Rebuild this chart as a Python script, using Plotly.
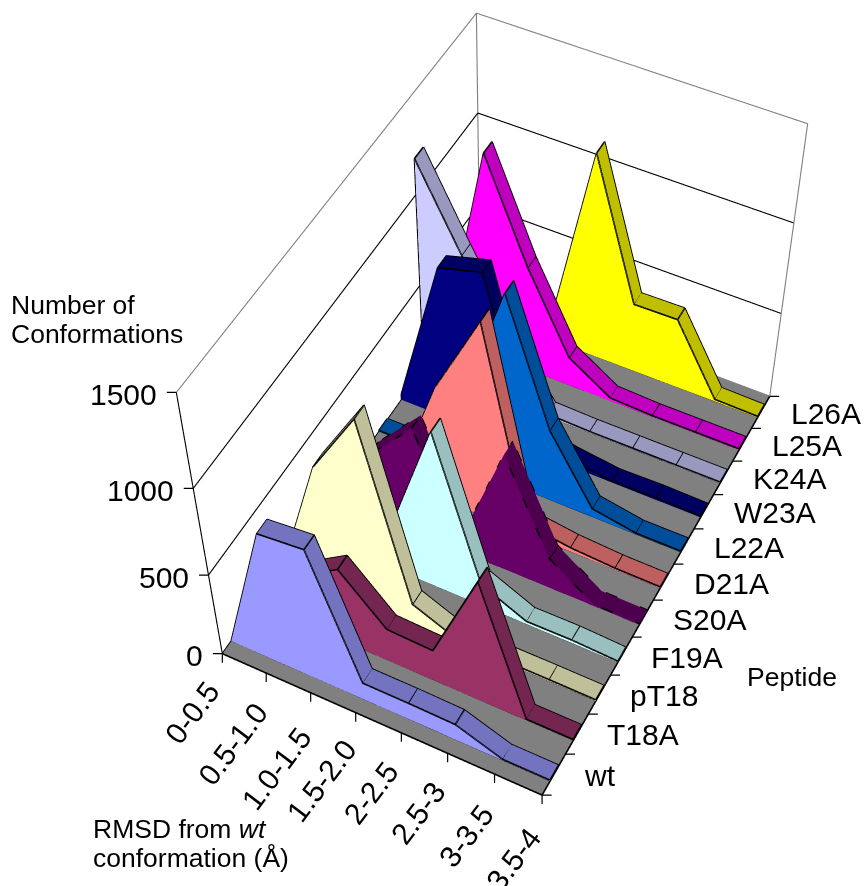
import numpy as np
import plotly.graph_objects as go

# Conformation counts per RMSD bin for each peptide
RMSD_BINS = ["0-0.5", "0.5-1.0", "1.0-1.5", "1.5-2.0", "2-2.5", "2.5-3", "3-3.5", "3.5-4"]
PEPTIDES = ["wt", "T18A", "pT18", "F19A", "S20A", "D21A", "L22A", "W23A", "K24A", "L25A", "L26A"]
wt   = [0, 784, 808, 110, 109, 104, 8, 8]
t18a = [0, 300, 460, 207, 197, 744, 8, 8]
pt18 = [0, 730, 1100, 125, 15, 10, 10, 8]
f19a = [0, 40, 260, 930, 135, 18, 20, 8]
s20a = [0, 380, 640, 80, 700, 185, 10, 8]
d21a = [0, 40, 680, 1130, 60, 25, 10, 8]
l22a = [8, 8, 400, 1093, 426, 52, 8, 8]
w23a = [34, 867, 933, 100, 40, 8, 13, 8]
k24a = [1186, 759, 350, 15, 8, 8, 8, 8]
l25a = [0, 1135, 603, 168, 18, 8, 8, 8]
l26a = [0, 8, 30, 1138, 395, 399, 13, 8]
COUNTS = [wt, t18a, pt18, f19a, s20a, d21a, l22a, w23a, k24a, l25a, l26a]

FACE_COLORS = ["#9999FF", "#993366", "#FFFFCC", "#CCFFFF", "#660066", "#FF8080",
               "#0066CC", "#000080", "#CCCCFF", "#FF00FF", "#FFFF00"]
TOP_COLORS = ["#7373BF", "#732650", "#BFBF99", "#99BFBF", "#4D004D", "#BF6060",
              "#004D99", "#000060", "#9999BF", "#BF00BF", "#BFBF00"]
Z_TICKS = [0, 500, 1000, 1500]

FLOOR_COLOR = "#808080"
EDGE = "#000000"
WALL = "#808080"
FONT = "Liberation Sans"
TICK_SIZE = 30
TITLE_SIZE = 26.5

# The scene is larger than the window so that the lens matches a long focal length;
# the page shifts it up by PAGE_TOP pixels and crops the rest.
FIG_W, FIG_H, PAGE_TOP = 1010, 1860, 487
FLAT = dict(ambient=1, diffuse=0, specular=0, roughness=1, fresnel=0)


def paper_x(px):
    return px / FIG_W


def paper_y(py):
    return 1 - (py + PAGE_TOP) / FIG_H


def quads_mesh(quads, color):
    xs, ys, zs, i, j, k = [], [], [], [], [], []
    for q in quads:
        n = len(xs)
        for p in q:
            xs.append(p[0]); ys.append(p[1]); zs.append(p[2])
        i += [n, n]; j += [n + 1, n + 2]; k += [n + 2, n + 3]
    return go.Mesh3d(x=xs, y=ys, z=zs, i=i, j=j, k=k, color=color, opacity=1,
                     flatshading=True, lighting=FLAT, hoverinfo="skip", showscale=False)


def polyline(segments, color=EDGE, width=3.2, dash="solid"):
    xs, ys, zs = [], [], []
    for seg in segments:
        for p in seg:
            xs.append(p[0]); ys.append(p[1]); zs.append(p[2])
        xs.append(None); ys.append(None); zs.append(None)
    return go.Scatter3d(x=xs, y=ys, z=zs, mode="lines", hoverinfo="skip",
                        line=dict(color=color, width=width, dash=dash), showlegend=False)


x_pos = list(range(len(RMSD_BINS)))
x_max, y_max, z_max = x_pos[-1], len(PEPTIDES), Z_TICKS[-1]
fig = go.Figure()

# Floor of the chart
fig.add_trace(quads_mesh([[(0, 0, 0), (x_max, 0, 0), (x_max, y_max, 0), (0, y_max, 0)]], FLOOR_COLOR))
fig.add_trace(polyline([[(0, y_max, 0), (0, 0, 0), (x_max, 0, 0), (x_max, y_max, 0)]]))
fig.add_trace(polyline([[(0, y_max, 0), (x_max, y_max, 0)]], color=WALL))

# Walls: gridlines and the outer frame
grid = [[(0, 0, z), (0, y_max, z), (x_max, y_max, z)] for z in Z_TICKS[1:-1]]
fig.add_trace(polyline(grid + [[(0, 0, 0), (0, 0, z_max)]], width=2.2))
fig.add_trace(polyline([[(0, 0, z_max), (0, y_max, z_max), (x_max, y_max, z_max), (x_max, y_max, 0)],
                        [(0, y_max, 0), (0, y_max, z_max)]], color=WALL, width=2.2))

# One extruded area ribbon per peptide
for s, values in enumerate(COUNTS):
    y0, y1 = s + 1 / 3, s + 0.7
    front, top, lines = [], [], []
    for a in range(len(x_pos) - 1):
        xa, xb, za, zb = x_pos[a], x_pos[a + 1], values[a], values[a + 1]
        front.append([(xa, y0, 0), (xb, y0, 0), (xb, y0, zb), (xa, y0, za)])
        top.append([(xa, y0, za), (xb, y0, zb), (xb, y1, zb), (xa, y1, za)])
    fig.add_trace(quads_mesh(front, FACE_COLORS[s]))
    fig.add_trace(quads_mesh(top, TOP_COLORS[s]))
    lines.append([(x, y0, z) for x, z in zip(x_pos, values)])
    lines.append([(x, y1, z) for x, z in zip(x_pos, values)])
    lines.append([(0, y0, 0), (x_max, y0, 0)])
    lines.append([(0, y0, 0), (0, y0, values[0])])
    lines += [[(x, y0, z), (x, y1, z)] for x, z in zip(x_pos, values)]
    fig.add_trace(polyline(lines, dash="dash" if PEPTIDES[s] == "S20A" else "solid"))

# Axis tick marks and labels, attached to the scene's own coordinates
annotations = []


def tick(x, y, z, ax, ay):
    annotations.append(dict(x=x, y=y, z=z, text="\u00a0", showarrow=True, arrowhead=0, arrowwidth=1.2,
                            arrowcolor="#000000", ax=ax, ay=ay, standoff=0,
                            font=dict(size=1)))


def label(x, y, z, text, **kw):
    annotations.append(dict(x=x, y=y, z=z, text=text, showarrow=False,
                            font=dict(family=FONT, size=TICK_SIZE, color="#000000"), **kw))


for z in Z_TICKS:
    tick(0, 0, z, -11, 0)
    label(0, 0, z, str(z), xanchor="right", yanchor="middle", xshift=-17, yshift=-2)

BIN_SHIFTS = [(-30, -59), (-34, -71), (-34, -76), (-34, -68), (-30, -60), (-30, -60), (-29, -62), (-29, -64)]
for x, name, (dx, dy) in zip(x_pos, RMSD_BINS, BIN_SHIFTS):
    tick(x, 0, 0, 0, 11)
    label(x, 0, 0, name, xanchor="center", yanchor="middle", textangle=-53, xshift=dx, yshift=dy)

for s in range(y_max + 1):
    tick(x_max, s, 0, 11, 0)
for s, name in enumerate(PEPTIDES):
    label(x_max, s + 0.5, 0, name, xanchor="left", yanchor="middle", xshift=28, yshift=-1)

fig.update_layout(
    width=FIG_W, height=FIG_H, margin=dict(l=0, r=0, t=0, b=0), autosize=False,
    paper_bgcolor="#FFFFFF", showlegend=False,
    scene=dict(
        domain=dict(x=[0, 1], y=[0, 1]),
        aspectmode="manual", aspectratio=dict(x=1, y=1.5701, z=1.1264),
        camera=dict(eye=dict(x=1.808, y=-3.5593, z=4.6826),
                    center=dict(x=0.0378, y=-0.0951, z=-0.0847),
                    up=dict(x=-0.3511, y=0.6906, z=0.6322),
                    projection=dict(type="perspective")),
        xaxis=dict(range=[0, x_max], visible=False),
        yaxis=dict(range=[0, y_max], visible=False),
        zaxis=dict(range=[0, z_max], visible=False),
        bgcolor="#FFFFFF", annotations=annotations, dragmode=False,
    ),
)

# Axis titles
for text, px, py in [("Number of", 9, 305), ("Conformations", 9, 334), ("Peptide", 745, 677),
                     ("RMSD from <i>wt</i>", 91, 829), ("conformation (Å)", 91, 858)]:
    fig.add_annotation(xref="paper", yref="paper", x=paper_x(px), y=paper_y(py), text=text, showarrow=False,
                       xanchor="left", yanchor="middle",
                       font=dict(family=FONT, size=TITLE_SIZE, color="#000000"))

SHIFT_PAGE = (
    "document.documentElement.style.overflow='hidden';"
    "document.body.style.overflow='hidden';document.body.style.margin='0';"
    "document.getElementById('{plot_id}').style.marginTop='-%dpx';" % PAGE_TOP
)
fig.write_html("out.html", post_script=SHIFT_PAGE, config=dict(displayModeBar=False))
